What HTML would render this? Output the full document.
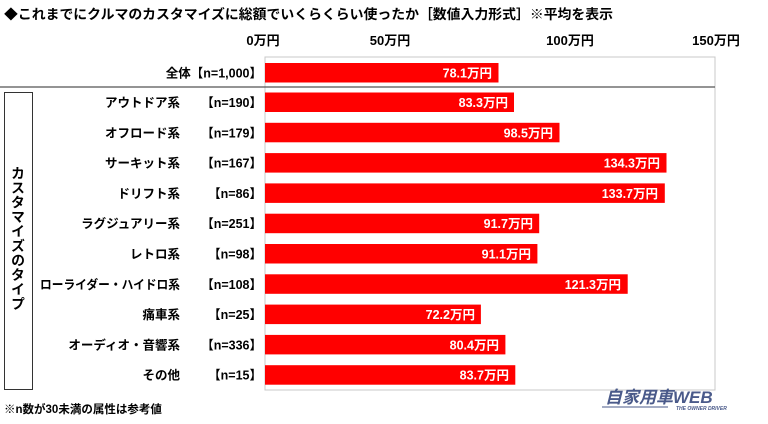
<!DOCTYPE html>
<html><head><meta charset="utf-8"><style>
body{margin:0;background:#fff;}
svg text{font-family:"Liberation Sans","Noto Sans CJK JP",sans-serif;font-weight:bold;}
</style></head><body>
<svg width="768" height="419" viewBox="0 0 768 419" xmlns="http://www.w3.org/2000/svg">
<text x="4" y="19" font-size="13.5" fill="#000" textLength="609" lengthAdjust="spacingAndGlyphs">◆これまでにクルマのカスタマイズに総額でいくらくらい使ったか［数値入力形式］※平均を表示</text>
<g font-size="13" fill="#000" text-anchor="middle">
<text x="263" y="45">0万円</text><text x="390" y="45">50万円</text><text x="570" y="45">100万円</text><text x="716" y="45">150万円</text>
</g>
<rect x="265" y="57" width="450" height="333" fill="none" stroke="#c8c8c8" stroke-width="1"/>
<line x1="0" y1="87" x2="715" y2="87" stroke="#555" stroke-width="1.2"/>
<rect x="4.5" y="92.5" width="28" height="297" fill="none" stroke="#333" stroke-width="1"/>
<text font-size="14" fill="#000" x="18" y="166" style="writing-mode:vertical-rl;text-orientation:upright;letter-spacing:0.5px">カスタマイズのタイプ</text>
<g font-size="12.5">
<rect x="265" y="63" width="233.5" height="19.5" fill="#f00"/><text x="492" y="77.5" fill="#fff" text-anchor="end">78.1万円</text>
<text x="262" y="77.5" text-anchor="end">全体【n=1,000】</text>
</g>
<g font-size="12.5">
<rect x="265" y="92.5" width="249" height="19.5" fill="#f00"/><text x="508" y="107" fill="#fff" text-anchor="end">83.3万円</text>
<text x="180" y="107" text-anchor="end">アウトドア系</text><text x="262" y="107" text-anchor="end">【n=190】</text>

<rect x="265" y="122.8" width="294.5" height="19.5" fill="#f00"/><text x="553" y="137.3" fill="#fff" text-anchor="end">98.5万円</text>
<text x="180" y="137.3" text-anchor="end">オフロード系</text><text x="262" y="137.3" text-anchor="end">【n=179】</text>

<rect x="265" y="153.1" width="401.5" height="19.5" fill="#f00"/><text x="660" y="167.6" fill="#fff" text-anchor="end">134.3万円</text>
<text x="180" y="167.6" text-anchor="end">サーキット系</text><text x="262" y="167.6" text-anchor="end">【n=167】</text>

<rect x="265" y="183.4" width="399.8" height="19.5" fill="#f00"/><text x="658" y="197.9" fill="#fff" text-anchor="end">133.7万円</text>
<text x="180" y="197.9" text-anchor="end">ドリフト系</text><text x="262" y="197.9" text-anchor="end">【n=86】</text>

<rect x="265" y="213.7" width="274.2" height="19.5" fill="#f00"/><text x="533" y="228.2" fill="#fff" text-anchor="end">91.7万円</text>
<text x="180" y="228.2" text-anchor="end">ラグジュアリー系</text><text x="262" y="228.2" text-anchor="end">【n=251】</text>

<rect x="265" y="244" width="272.4" height="19.5" fill="#f00"/><text x="531" y="258.5" fill="#fff" text-anchor="end">91.1万円</text>
<text x="180" y="258.5" text-anchor="end">レトロ系</text><text x="262" y="258.5" text-anchor="end">【n=98】</text>

<rect x="265" y="274.3" width="362.7" height="19.5" fill="#f00"/><text x="621" y="288.8" fill="#fff" text-anchor="end">121.3万円</text>
<text x="40" y="288.8" textLength="140" lengthAdjust="spacingAndGlyphs">ローライダー・ハイドロ系</text><text x="262" y="288.8" text-anchor="end">【n=108】</text>

<rect x="265" y="304.6" width="215.9" height="19.5" fill="#f00"/><text x="475" y="319.1" fill="#fff" text-anchor="end">72.2万円</text>
<text x="180" y="319.1" text-anchor="end">痛車系</text><text x="262" y="319.1" text-anchor="end">【n=25】</text>

<rect x="265" y="334.9" width="240.4" height="19.5" fill="#f00"/><text x="499" y="349.4" fill="#fff" text-anchor="end">80.4万円</text>
<text x="180" y="349.4" text-anchor="end">オーディオ・音響系</text><text x="262" y="349.4" text-anchor="end">【n=336】</text>

<rect x="265" y="365.2" width="250.3" height="19.5" fill="#f00"/><text x="509" y="379.7" fill="#fff" text-anchor="end">83.7万円</text>
<text x="180" y="379.7" text-anchor="end">その他</text><text x="262" y="379.7" text-anchor="end">【n=15】</text>
</g>
<text x="4" y="413" font-size="11.5" fill="#000">※n数が30未満の属性は参考値</text>
<g fill="#4a5a8a">
<text x="605" y="403" font-size="17" font-style="italic">自家用車WEB</text>
<text x="676" y="410" font-size="5" font-style="italic">THE OWNER DRIVER</text>
<line x1="602" y1="407" x2="668" y2="407" stroke="#4a5a8a" stroke-width="1"/>
</g>
</svg>
</body></html>
